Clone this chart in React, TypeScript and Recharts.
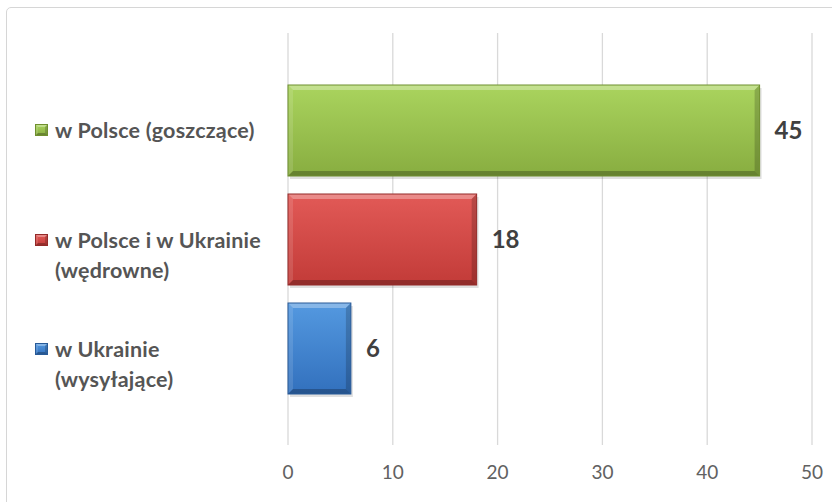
import React from 'react';
import { BarChart, Bar, XAxis, YAxis, CartesianGrid, Legend, LabelList } from 'recharts';

const seriesKeys = ['goszczace', 'wedrowne', 'wysylajace'];
const seriesNames = ['w Polsce (goszczące)', 'w Polsce i w Ukrainie\n(wędrowne)', 'w Ukrainie\n(wysyłające)'];
const seriesValues = [45, 18, 6];
const xTicks = [0, 10, 20, 30, 40, 50];

const palette = [
  { top: '#aad45e', bottom: '#88ad40', edge: '#6f8f2e' },
  { top: '#e25a57', bottom: '#c23b38', edge: '#932a28' },
  { top: '#5499e0', bottom: '#3270bd', edge: '#285a98' },
];

const row: Record<string, any> = { cat: '' };
seriesKeys.forEach((k, i) => {
  row[k] = seriesValues[i];
});
const data = [row];

const BevelShape = (idx: number, bevel: number, shadow: boolean) => (props: any) => {
  const { x, y, width, height } = props;
  if (width == null || height == null || width <= 0) return null;
  const c = palette[idx];
  const id = `grad-${idx}-${bevel}`;
  const b = Math.min(bevel, width / 2, height / 2);
  const x2 = x + width;
  const y2 = y + height;
  return (
    <g>
      <defs>
        <linearGradient id={id} x1="0" y1="0" x2="0" y2="1">
          <stop offset="0%" stopColor={c.top} />
          <stop offset="100%" stopColor={c.bottom} />
        </linearGradient>
      </defs>
      {shadow && (
        <rect x={x + 2} y={y + 3} width={width} height={height} fill="#000" fillOpacity={0.12} />
      )}
      <rect x={x} y={y} width={width} height={height} fill={`url(#${id})`} />
      <polygon points={`${x},${y} ${x2},${y} ${x2 - b},${y + b} ${x + b},${y + b}`} fill="#fff" fillOpacity={0.3} />
      <polygon points={`${x},${y} ${x + b},${y + b} ${x + b},${y2 - b} ${x},${y2}`} fill="#fff" fillOpacity={0.12} />
      <polygon points={`${x},${y2} ${x + b},${y2 - b} ${x2 - b},${y2 - b} ${x2},${y2}`} fill="#000" fillOpacity={0.25} />
      <polygon points={`${x2},${y} ${x2},${y2} ${x2 - b},${y2 - b} ${x2 - b},${y + b}`} fill="#000" fillOpacity={0.18} />
      <rect x={x} y={y} width={width} height={height} fill="none" stroke={c.edge} strokeWidth={1} />
    </g>
  );
};

const legendLineCenters = [130, 240, 349];

const LegendContent = () => (
  <div
    style={{
      position: 'relative',
      width: 280,
      height: 502,
      fontFamily: 'Lato, "Open Sans", sans-serif',
      fontWeight: 700,
      fontSize: 21.5,
      letterSpacing: 0.2,
      color: '#555555',
    }}
  >
    {seriesNames.map((name, i) => (
      <div
        key={name}
        style={{
          position: 'absolute',
          left: 35,
          top: legendLineCenters[i] - 15,
          display: 'flex',
          alignItems: 'flex-start',
        }}
      >
        <svg width={13} height={12} style={{ marginTop: 9, flex: 'none' }}>
          {BevelShape(i, 2.5, false)({ x: 0.5, y: 0.5, width: 12, height: 11 })}
        </svg>
        <div style={{ marginLeft: 7, whiteSpace: 'pre-line', lineHeight: '30px' }}>{name}</div>
      </div>
    ))}
  </div>
);

export default function App() {
  return (
    <div
      style={{
        position: 'absolute',
        left: 0,
        top: 0,
        width: 832,
        height: 502,
        overflow: 'hidden',
        background: '#fff',
      }}
    >
      <div
        style={{
          position: 'absolute',
          left: 6,
          top: 7,
          width: 900,
          height: 600,
          border: '1.5px solid #d6d6d6',
          borderRadius: 5,
        }}
      />
      <div style={{ position: 'absolute', left: 0, top: 0 }}>
        <BarChart
          width={832}
          height={502}
          data={data}
          layout="vertical"
          margin={{ top: 33, right: 20, bottom: 0, left: 8 }}
          barGap={18}
        >
          <CartesianGrid horizontal={false} vertical stroke="#d9d9d9" strokeWidth={1.3} />
          <XAxis
            type="number"
            domain={[0, 50]}
            ticks={xTicks}
            axisLine={false}
            tickLine={false}
            tickSize={0}
            tickMargin={21}
            height={57}
            tick={{ fill: '#616161', fontSize: 19, fontFamily: 'Lato, sans-serif' }}
            interval={0}
          />
          <YAxis type="category" dataKey="cat" hide width={0} />
          <Legend
            layout="vertical"
            align="left"
            verticalAlign="top"
            width={280}
            height={502}
            wrapperStyle={{ left: 0, top: 0 }}
            content={LegendContent}
          />
          {seriesKeys.map((k, i) => (
            <Bar
              key={k}
              dataKey={k}
              name={seriesNames[i]}
              fill={palette[i].top}
              barSize={91}
              isAnimationActive={false}
              shape={BevelShape(i, 5, true)}
            >
              <LabelList
                dataKey={k}
                position="right"
                offset={15}
                style={{ fill: '#404040', fontSize: 24, fontWeight: 700, fontFamily: 'Lato, sans-serif' }}
              />
            </Bar>
          ))}
        </BarChart>
      </div>
    </div>
  );
}
